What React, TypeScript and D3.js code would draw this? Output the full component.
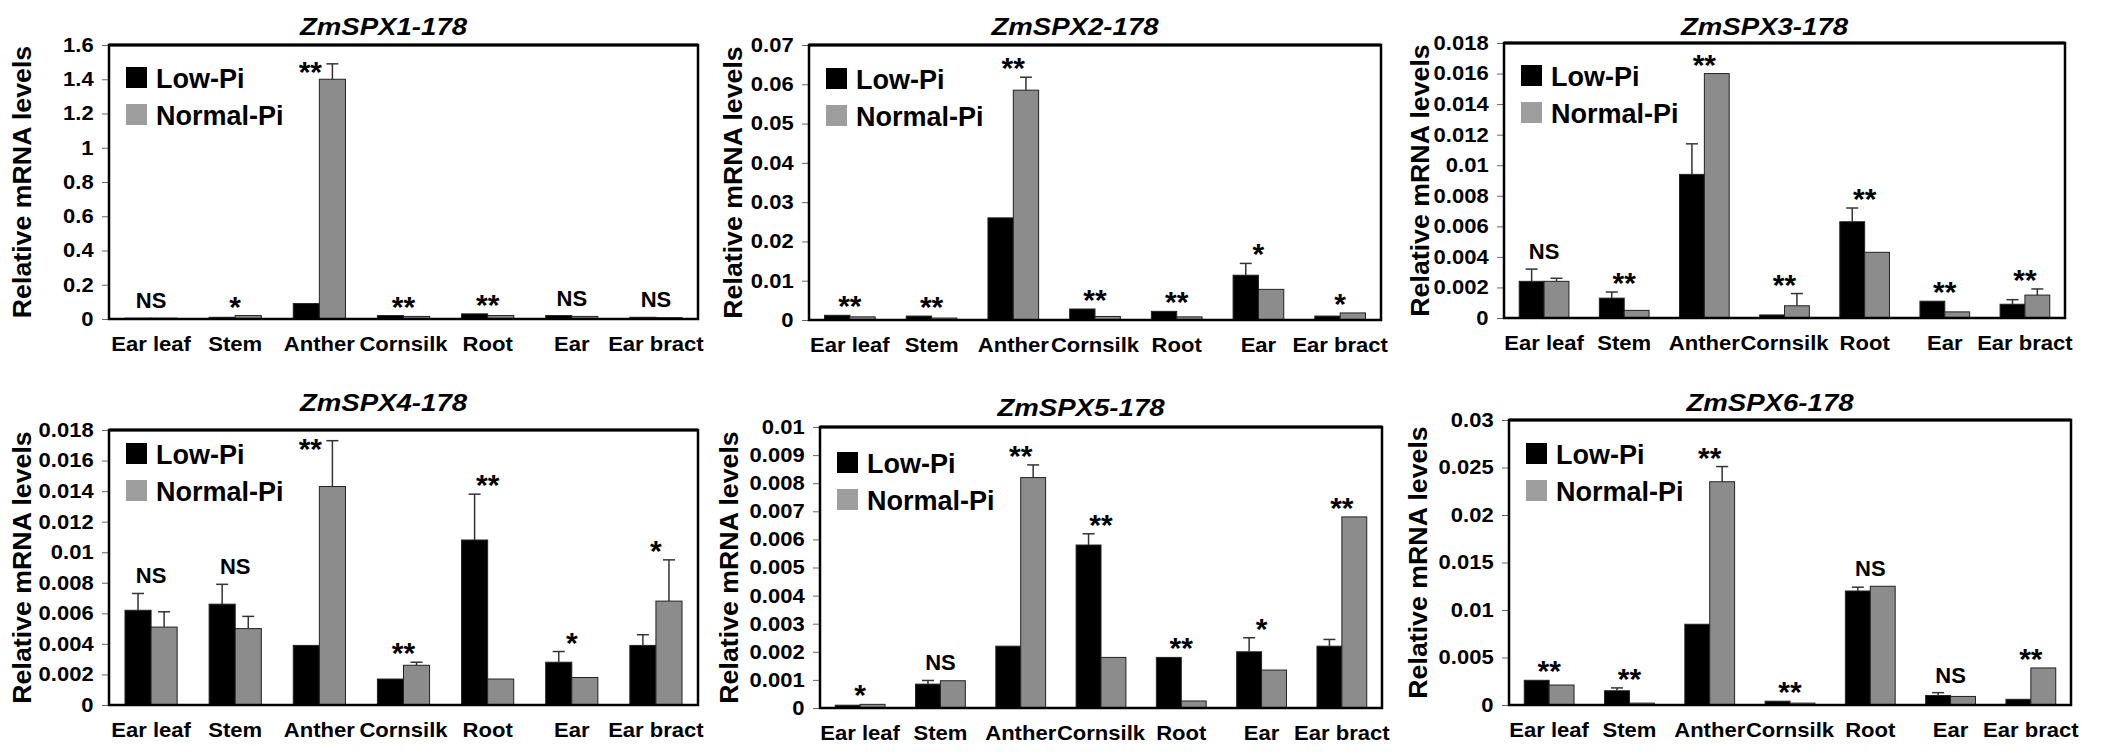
import { useEffect, useRef } from 'react';
import * as d3 from 'd3';

// tissues on the x axis, shared by all six panels
const categories = ["Ear leaf", "Stem", "Anther", "Cornsilk", "Root", "Ear", "Ear bract"];
const titles = ["ZmSPX1-178", "ZmSPX2-178", "ZmSPX3-178", "ZmSPX4-178", "ZmSPX5-178", "ZmSPX6-178"];
const seriesNames = ["Low-Pi", "Normal-Pi"];
const yMaxes = [1.6, 0.07, 0.018, 0.018, 0.01, 0.03];
const tickCounts = [8, 7, 9, 9, 10, 6];

const lowPi = [
  [0.005, 0.01, 0.09, 0.02, 0.03, 0.02, 0.01],
  [0.0012, 0.001, 0.026, 0.0028, 0.0022, 0.0114, 0.001],
  [0.0024, 0.0013, 0.0094, 0.0002, 0.0063, 0.0011, 0.0009],
  [0.0062, 0.0066, 0.0039, 0.0017, 0.0108, 0.0028, 0.0039],
  [0.0001, 0.00085, 0.0022, 0.0058, 0.0018, 0.0020, 0.0022],
  [0.0026, 0.0015, 0.0085, 0.0004, 0.0120, 0.0010, 0.0006],
];
const lowErr = [
  [0, 0, 0, 0, 0, 0, 0],
  [0, 0, 0, 0, 0, 0.003, 0],
  [0.0008, 0.0004, 0.002, 0, 0.0009, 0, 0.0003],
  [0.0011, 0.0013, 0, 0, 0.003, 0.0007, 0.0007],
  [0, 0.00013, 0, 0.0004, 0, 0.0005, 0.00024],
  [0, 0.0003, 0, 0, 0.0004, 0.0003, 0],
];
const normalPi = [
  [0.005, 0.02, 1.4, 0.015, 0.02, 0.015, 0.008],
  [0.0008, 0.0005, 0.0585, 0.0009, 0.0008, 0.0078, 0.0018],
  [0.0024, 0.0005, 0.016, 0.0008, 0.0043, 0.0004, 0.0015],
  [0.0051, 0.0050, 0.0143, 0.0026, 0.0017, 0.0018, 0.0068],
  [0.00013, 0.00097, 0.0082, 0.0018, 0.00025, 0.00135, 0.0068],
  [0.0021, 0.0002, 0.0235, 0.0002, 0.0125, 0.0009, 0.0039],
];
const normalErr = [
  [0, 0, 0.09, 0, 0, 0, 0],
  [0, 0, 0.0033, 0, 0, 0, 0],
  [0.0002, 0, 0, 0.0008, 0, 0, 0.0004],
  [0.0010, 0.0008, 0.003, 0.0002, 0, 0, 0.0027],
  [0, 0, 0.00045, 0, 0, 0, 0],
  [0, 0, 0.0016, 0, 0, 0, 0],
];
const significance = [
  ["NS", "*", "**", "**", "**", "NS", "NS"],
  ["**", "**", "**", "**", "**", "*", "*"],
  ["NS", "**", "**", "**", "**", "**", "**"],
  ["NS", "NS", "**", "**", "**", "*", "*"],
  ["*", "NS", "**", "**", "**", "*", "**"],
  ["**", "**", "**", "**", "NS", "NS", "**"],
];

// panel placement on the 2111x754 canvas
const layout = [
  { left: 109, right: 698, top: 45, bottom: 319, titleY: 27, ylabX: 22, legendDy: 22 },
  { left: 809, right: 1381, top: 45, bottom: 320, titleY: 27, ylabX: 733, legendDy: 23 },
  { left: 1504, right: 2065, top: 43, bottom: 318, titleY: 27, ylabX: 1420, legendDy: 22 },
  { left: 109, right: 698, top: 430, bottom: 705, titleY: 403, ylabX: 22, legendDy: 13 },
  { left: 820, right: 1382, top: 427, bottom: 708, titleY: 408, ylabX: 729, legendDy: 25 },
  { left: 1509, right: 2071, top: 420, bottom: 705, titleY: 403, ylabX: 1418, legendDy: 23 },
];

const FONT = "'Liberation Sans', Arial, sans-serif";
const GRAY = "#8c8c8c";

export default function App() {
  const svgRef = useRef<SVGSVGElement>(null);

  useEffect(() => {
    if (!svgRef.current) return;
    const svg = d3.select(svgRef.current);
    svg.selectAll("*").remove();

    const text = (g: any, x: number, y: number, str: string, size: number, opts: any = {}) => {
      const sx = opts.sx ?? 1;
      const rot = opts.rotate ?? 0;
      return g.append("text")
        .attr("transform", `translate(${x},${y}) rotate(${rot}) scale(${sx},1)`)
        .attr("text-anchor", opts.anchor ?? "middle")
        .attr("dominant-baseline", opts.baseline ?? "auto")
        .style("font-family", FONT)
        .style("font-weight", "bold")
        .style("font-style", opts.italic ? "italic" : "normal")
        .style("font-size", `${size}px`)
        .attr("fill", "#000")
        .text(str);
    };

    layout.forEach((L, p) => {
      const g = svg.append("g");
      const x = d3.scaleBand<string>().domain(categories).range([L.left, L.right]);
      const y = d3.scaleLinear().domain([0, yMaxes[p]]).range([L.bottom, L.top]);
      const bw = x.bandwidth() * 0.31;

      // title
      text(g, (L.left + L.right) / 2 - 20, L.titleY, titles[p], 24, { italic: true, sx: 1.15, baseline: "central" });

      // y label
      text(g, L.ylabX, (L.top + L.bottom) / 2, "Relative mRNA levels", 25, { rotate: -90, sx: 1.07, baseline: "central" });

      // y axis
      const ticks = d3.ticks(0, yMaxes[p], tickCounts[p]);
      const yAxis = g.append("g")
        .attr("transform", `translate(${L.left},0)`)
        .call(d3.axisLeft(y).tickValues(ticks).tickSize(7).tickPadding(7)
          .tickFormat((v: any) => String(parseFloat((+v).toPrecision(6)))));
      yAxis.select(".domain").remove();
      yAxis.selectAll(".tick line").attr("stroke", "#666");
      yAxis.selectAll(".tick text")
        .attr("transform", "scale(1.1,1)")
        .style("font-family", FONT)
        .style("font-weight", "bold")
        .style("font-size", "20px")
        .attr("fill", "#000");

      // bars
      categories.forEach((c, i) => {
        const cx = (x(c) as number) + x.bandwidth() / 2;
        const vals = [lowPi[p][i], normalPi[p][i]];
        const errs = [lowErr[p][i], normalErr[p][i]];
        vals.forEach((v, s) => {
          const bx = cx - bw + s * bw;
          g.append("rect")
            .attr("x", bx)
            .attr("y", y(v))
            .attr("width", bw)
            .attr("height", L.bottom - y(v))
            .attr("fill", s === 0 ? "#000" : GRAY)
            .attr("stroke", "#222")
            .attr("stroke-width", 1);
          if (errs[s] > 0) {
            const ex = bx + bw / 2;
            g.append("line")
              .attr("x1", ex).attr("x2", ex)
              .attr("y1", y(v)).attr("y2", y(v + errs[s]))
              .attr("stroke", "#333").attr("stroke-width", 1.5);
            g.append("line")
              .attr("x1", ex - 6).attr("x2", ex + 6)
              .attr("y1", y(v + errs[s])).attr("y2", y(v + errs[s]))
              .attr("stroke", "#333").attr("stroke-width", 1.5);
          }
        });

        // significance mark; squeezed beside the error bar when there is no room above
        const top = y(Math.max(vals[0] + errs[0], vals[1] + errs[1]));
        const mark = significance[p][i];
        if (mark === "NS") text(g, cx, top - 10, mark, 22);
        else if (top - 22 < L.top + 5) text(g, cx - 9, top + 18, mark, 30);
        else text(g, cx, top + 1, mark, 30);

        // category label
        text(g, cx, L.bottom + 32, c, 21, { sx: 1.05 });
      });

      // frame
      g.append("rect")
        .attr("x", L.left).attr("y", L.top)
        .attr("width", L.right - L.left).attr("height", L.bottom - L.top)
        .attr("fill", "none").attr("stroke", "#000").attr("stroke-width", 2.5);
      g.append("line")
        .attr("x1", L.left).attr("x2", L.right)
        .attr("y1", L.top).attr("y2", L.top)
        .attr("stroke", "#000").attr("stroke-width", 3);

      // legend
      const lx = L.left + 17;
      const ly = L.top + L.legendDy;
      seriesNames.forEach((name, s) => {
        g.append("rect")
          .attr("x", lx).attr("y", ly + s * 37)
          .attr("width", 21).attr("height", 21)
          .attr("fill", s === 0 ? "#000" : "#9e9e9e");
        text(g, lx + 30, ly + s * 37 + 21, name, 27, { anchor: "start" });
      });
    });
  }, []);

  return (
    <svg
      ref={svgRef}
      width={2111}
      height={754}
      style={{ position: "absolute", left: 0, top: 0, background: "#fff" }}
    />
  );
}
